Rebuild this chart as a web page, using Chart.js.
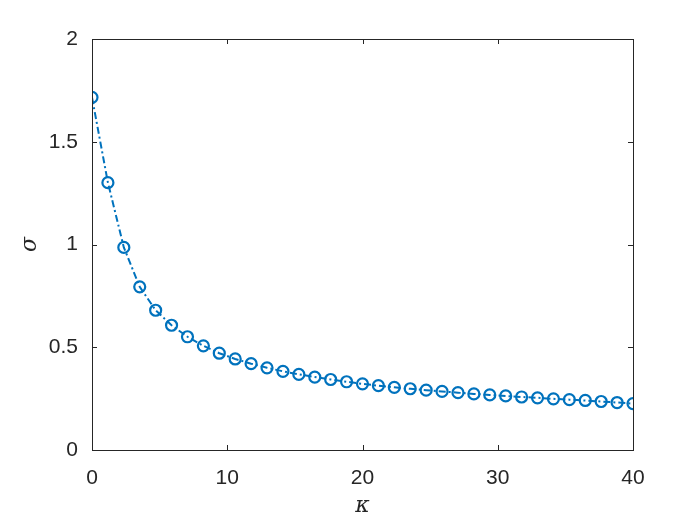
<!DOCTYPE html>
<html>
<head>
<meta charset="utf-8">
<script src="https://cdn.jsdelivr.net/npm/chart.js@4/dist/chart.umd.min.js"></script>
<style>
	html, body { margin: 0; padding: 0; background: #ffffff; }
	#wrap { width: 700px; height: 525px; }
</style>
</head>
<body>
<div id="wrap"><canvas id="chart" width="700" height="525"></canvas></div>
<script>
let kappa = [0, 1.176, 2.353, 3.529, 4.706, 5.882, 7.059, 8.235, 9.412, 10.588,
	11.765, 12.941, 14.118, 15.294, 16.471, 17.647, 18.824, 20, 21.176, 22.353,
	23.529, 24.706, 25.882, 27.059, 28.235, 29.412, 30.588, 31.765, 32.941, 34.118,
	35.294, 36.471, 37.647, 38.824, 40];
let sigma = [1.716, 1.301, 0.986, 0.794, 0.680, 0.607, 0.551, 0.507, 0.471, 0.443,
	0.420, 0.400, 0.383, 0.368, 0.355, 0.343, 0.332, 0.322, 0.313, 0.305,
	0.298, 0.291, 0.285, 0.279, 0.273, 0.268, 0.263, 0.258, 0.254, 0.249,
	0.245, 0.241, 0.236, 0.231, 0.226];
let xTicks = [0, 10, 20, 30, 40];
let yTicks = [0, 0.5, 1, 1.5, 2];

let points = kappa.map((k, i) => ({ x: k, y: sigma[i] }));
let axisColor = "#262626";

// box around the plot with ticks pointing inwards, like matlab
let boxPlugin = {
	id: "box",
	afterDraw(chart) {
		let ctx = chart.ctx;
		let a = chart.chartArea;
		let xs = chart.scales.x;
		let ys = chart.scales.y;
		ctx.save();
		ctx.strokeStyle = axisColor;
		ctx.lineWidth = 1;
		ctx.strokeRect(Math.round(a.left) + 0.5, Math.round(a.top) + 0.5,
			Math.round(a.right - a.left), Math.round(a.bottom - a.top));
		let len = 5;
		ctx.beginPath();
		xTicks.forEach((t) => {
			let px = Math.round(xs.getPixelForValue(t)) + 0.5;
			ctx.moveTo(px, a.bottom); ctx.lineTo(px, a.bottom - len);
			ctx.moveTo(px, a.top); ctx.lineTo(px, a.top + len);
		});
		yTicks.forEach((t) => {
			let py = Math.round(ys.getPixelForValue(t)) + 0.5;
			ctx.moveTo(a.left, py); ctx.lineTo(a.left + len, py);
			ctx.moveTo(a.right, py); ctx.lineTo(a.right - len, py);
		});
		ctx.stroke();

		// axis labels
		ctx.fillStyle = axisColor;
		ctx.font = "italic 22px 'DejaVu Serif', 'Liberation Serif', serif";
		ctx.textAlign = "center";
		ctx.textBaseline = "middle";
		ctx.fillText("κ", (a.left + a.right) / 2, 506);
		ctx.translate(30, (a.top + a.bottom) / 2);
		ctx.rotate(-Math.PI / 2);
		ctx.fillText("σ", 0, 0);
		ctx.restore();
	},
};

let data = {
	datasets: [
		{
			data: points,
			showLine: true,
			borderColor: "#0072BD",
			borderWidth: 2,
			borderDash: [7, 3, 2, 3],
			backgroundColor: "rgba(0,0,0,0)",
			pointRadius: 5.5,
			pointBorderWidth: 2.2,
			pointBorderColor: "#0072BD",
			pointBackgroundColor: "rgba(0,0,0,0)",
			tension: 0,
		},
	],
};

let config = {
	type: "scatter",
	data: data,
	options: {
		responsive: false,
		animation: false,
		layout: {
			padding: { left: 0, right: 67, top: 39, bottom: 0 },
		},
		plugins: {
			legend: { display: false },
			tooltip: { enabled: false },
		},
		scales: {
			x: {
				type: "linear",
				min: 0,
				max: 40,
				afterBuildTicks: (s) => { s.ticks = xTicks.map((v) => ({ value: v })); },
				afterFit: (s) => { s.height = 75; },
				grid: { display: false, drawTicks: false },
				border: { display: false },
				ticks: {
					color: axisColor,
					padding: 16,
					font: { family: "'Liberation Sans', Arial, sans-serif", size: 21 },
					callback: (v) => String(v),
				},
			},
			y: {
				type: "linear",
				min: 0,
				max: 2,
				afterBuildTicks: (s) => { s.ticks = yTicks.map((v) => ({ value: v })); },
				afterFit: (s) => { s.width = 92; },
				grid: { display: false, drawTicks: false },
				border: { display: false },
				ticks: {
					color: axisColor,
					padding: 14,
					font: { family: "'Liberation Sans', Arial, sans-serif", size: 21 },
					callback: (v) => String(v),
				},
			},
		},
	},
	plugins: [boxPlugin],
};

const chart = new Chart(document.getElementById("chart"), config);
</script>
</body>
</html>
